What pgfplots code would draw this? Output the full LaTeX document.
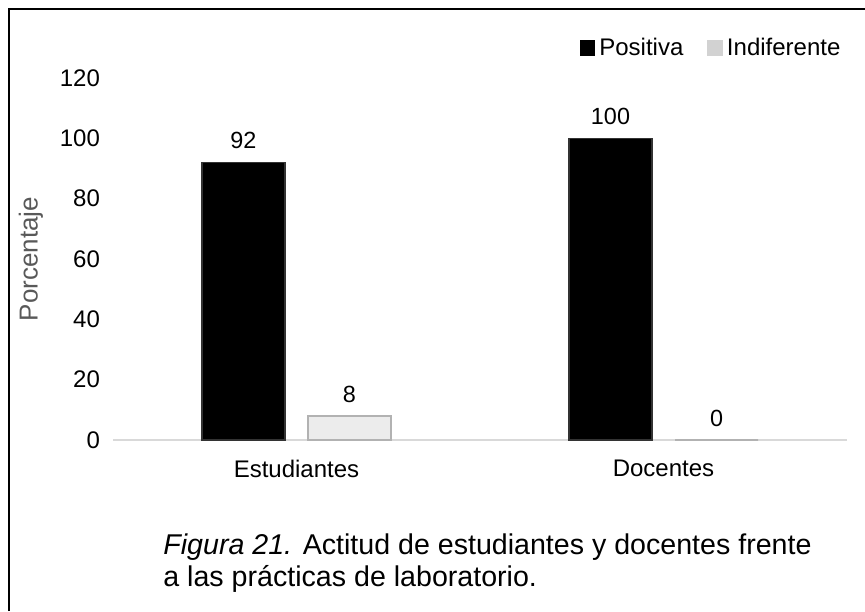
\documentclass[border=0pt]{standalone}
\usepackage{fontspec}
\setmainfont{Liberation Sans}
\usepackage{pgfplots}
\pgfplotsset{compat=1.18}
\definecolor{labgray}{RGB}{89,89,89}
\definecolor{axgray}{RGB}{217,217,217}
\begin{document}
\begin{tikzpicture}
\useasboundingbox (0,0) rectangle (432.5pt,-305.5pt);
\draw[line width=1pt] (4.5pt,-305.5pt) -- (4.5pt,-4.5pt) -- (432.5pt,-4.5pt);
\begin{axis}[
  at={(56.5pt,-220pt)}, anchor=south west,
  width=367pt, height=181pt, scale only axis,
  ybar=11.5pt, bar width=41.5pt,
  xmin=-0.5, xmax=1.5, ymin=0, ymax=120,
  xtick={0,1}, xticklabels={Estudiantes, Docentes},
  ytick={0,20,...,120},
  axis x line*=bottom, axis y line*=left,
  y axis line style={draw=none},
  x axis line style={axgray, line width=0.9pt},
  major tick length=0pt,
  /pgf/number format/assume math mode=true,
  tick label style={font=\fontsize{12}{14}\selectfont},
  yticklabel style={xshift=-3pt},
  xticklabel style={yshift=-6.5pt},
  ylabel={Porcentaje},
  ylabel style={at={(axis description cs:-0.112,0.5)}, anchor=center, color=labgray, font=\fontsize{13}{15}\selectfont},
  nodes near coords,
  every node near coord/.append style={font=\fontsize{11.7}{14}\selectfont, yshift=3pt, color=black},
  legend columns=2,
  legend style={at={(0.997,1.083)}, anchor=east, draw=none, fill=none, inner sep=0pt,
    font=\fontsize{12}{14}\selectfont,
    /tikz/every even column/.append style={column sep=10pt}},
]
\addplot[fill=black, draw=black!80, line width=0.8pt, legend image code/.code={\fill[black] (0pt,-3.5pt) rectangle (7pt,3.5pt);}] coordinates {(0,92) (1,100)};
\addplot[fill=gray!15, draw=gray!60, line width=0.8pt, legend image code/.code={\fill[gray!35] (0pt,-3.5pt) rectangle (7pt,3.5pt);}] coordinates {(0,8) (1,0)};
\legend{Positiva, Indiferente}
\end{axis}
\node[anchor=base west, inner sep=0pt, font=\fontsize{14.3}{16}\selectfont] at (81.5pt,-277pt) {\textit{Figura 21.} Actitud de estudiantes y docentes frente};
\node[anchor=base west, inner sep=0pt, font=\fontsize{14.3}{16}\selectfont] at (81.5pt,-293pt) {a las prácticas de laboratorio.};
\end{tikzpicture}
\end{document}
